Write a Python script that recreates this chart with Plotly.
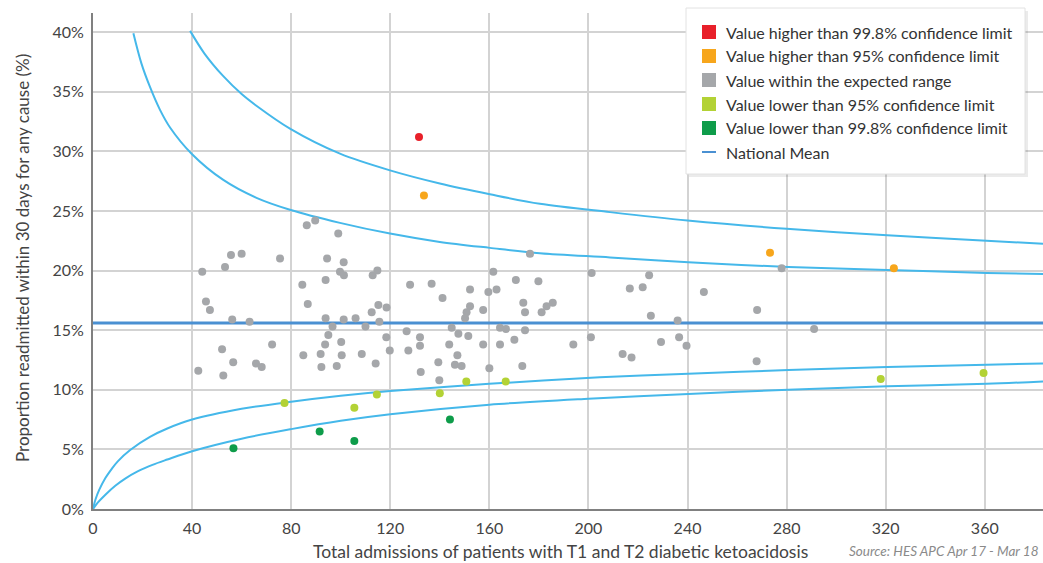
import plotly.graph_objects as go

# ---------------- data ----------------
# Gray: within expected range
gray_x = [86.3, 89.7, 99.0, 55.7, 60.0, 75.5, 44.1, 53.3, 94.5, 101.2, 99.7, 101.3, 112.9, 114.8,
          93.9, 84.5, 45.6, 47.2, 86.7, 56.2, 63.2, 93.9, 96.7, 101.2, 106.0, 110.0, 112.5, 115.2,
          118.5, 115.6, 95.0, 93.7, 100.2, 118.4, 52.1, 72.3, 84.9, 91.9, 100.4, 108.5, 119.8,
          56.6, 65.8, 68.1, 42.5, 52.6, 92.2, 98.4, 114.1,
          176.4, 161.6, 201.3, 128.0, 136.7, 152.2, 159.6, 162.9, 170.7, 179.8, 216.7, 141.1,
          152.2, 150.8, 150.2, 157.5, 173.7, 174.4, 181.1, 183.1, 185.6, 144.8, 147.5, 151.5,
          126.6, 132.0, 132.0, 164.3, 166.7, 174.4, 201.0, 127.3, 143.8, 157.5, 164.3, 170.1,
          193.9, 147.1, 139.4, 146.1, 148.8, 160.0, 173.3, 132.3, 139.8, 213.8, 217.4,
          224.5, 221.9, 246.6, 278.0, 268.1, 225.2, 236.0, 291.1, 236.6, 239.6, 229.3, 267.9]
gray_y = [23.8, 24.2, 23.1, 21.3, 21.4, 21.0, 19.9, 20.3, 21.0, 20.7, 19.9, 19.6, 19.6, 20.0,
          19.2, 18.8, 17.4, 16.7, 17.2, 15.9, 15.7, 16.0, 15.3, 15.9, 16.0, 15.3, 16.5, 17.1,
          16.9, 15.7, 14.6, 13.8, 14.0, 14.4, 13.4, 13.8, 12.9, 13.0, 12.9, 13.0, 13.3,
          12.3, 12.2, 11.9, 11.6, 11.2, 11.9, 12.0, 12.2,
          21.4, 19.9, 19.8, 18.8, 18.9, 18.4, 18.2, 18.4, 19.2, 19.1, 18.5, 17.7,
          17.0, 16.5, 16.0, 16.7, 17.3, 16.5, 16.5, 17.0, 17.3, 15.2, 14.7, 14.5,
          14.9, 14.4, 13.7, 15.2, 15.1, 15.0, 14.4, 13.3, 13.8, 13.8, 13.8, 14.2,
          13.8, 12.9, 12.3, 12.1, 12.0, 11.8, 12.0, 11.5, 10.8, 13.0, 12.7,
          19.6, 18.6, 18.2, 20.2, 16.7, 16.2, 15.8, 15.1, 14.4, 13.7, 14.0, 12.4]

red_x = [131.6]
red_y = [31.2]
orange_x = [133.6, 273.3, 323.3]
orange_y = [26.3, 21.5, 20.2]
lime_x = [77.3, 105.5, 114.6, 140.0, 150.7, 166.6, 318.0, 359.5]
lime_y = [8.9, 8.5, 9.6, 9.7, 10.7, 10.7, 10.9, 11.4]
green_x = [56.7, 91.5, 105.5, 144.1]
green_y = [5.1, 6.5, 5.7, 7.5]

national_mean = 15.6

# Control limit curves
up998_x = [39.2, 45.0, 52.6, 60.0, 66.1, 79.5, 99.7, 119.9, 140.0, 160.2, 180.4, 208.7, 240.0, 280.0, 320.6, 360.7, 383.5]
up998_y = [40.1, 38.2, 36.3, 34.8, 33.8, 31.9, 29.8, 28.4, 27.3, 26.4, 25.6, 24.9, 24.2, 23.5, 22.95, 22.5, 22.25]
up95_x = [16.3, 19.5, 23.0, 27.0, 31.1, 39.8, 52.6, 66.0, 79.5, 99.7, 119.9, 140.0, 160.2, 180.4, 208.7, 240.3, 280.7, 320.6, 360.7, 383.5]
up95_y = [39.9, 37.4, 35.4, 33.5, 32.0, 29.8, 27.6, 26.1, 25.1, 24.0, 23.1, 22.4, 21.9, 21.45, 21.1, 20.7, 20.3, 20.05, 19.8, 19.7]
lo95_x = [0.0, 1.0, 2.5, 5.0, 7.5, 10.0, 15.0, 23.0, 30.0, 40.0, 60.0, 80.0, 100.0, 120.0, 160.0, 204.6, 240.3, 280.7, 320.6, 360.7, 383.5]
lo95_y = [0.0, 0.8, 1.6, 2.6, 3.35, 4.0, 4.95, 6.05, 6.75, 7.5, 8.4, 9.0, 9.5, 9.9, 10.5, 11.05, 11.35, 11.65, 11.9, 12.1, 12.2]
lo998_x = [0.0, 2.0, 5.0, 9.0, 13.0, 18.0, 24.0, 30.0, 40.0, 60.0, 80.0, 100.0, 120.0, 160.0, 200.0, 240.3, 280.7, 320.6, 360.7, 383.5]
lo998_y = [0.0, 0.55, 1.2, 1.95, 2.55, 3.15, 3.7, 4.15, 4.85, 5.9, 6.7, 7.4, 7.95, 8.75, 9.25, 9.65, 10.0, 10.3, 10.5, 10.7]

x_ticks = [0, 40, 80, 120, 160, 200, 240, 280, 320, 360]
y_ticks = [0, 5, 10, 15, 20, 25, 30, 35, 40]
y_tick_labels = ["0%", "5%", "10%", "15%", "20%", "25%", "30%", "35%", "40%"]

legend_labels = ["Value higher than 99.8% confidence limit",
                 "Value higher than 95% confidence limit",
                 "Value within the expected range",
                 "Value lower than 95% confidence limit",
                 "Value lower than 99.8% confidence limit",
                 "National Mean"]

# ---------------- styling ----------------
FONT = "Lato"
C_RED = "#e8202a"
C_ORANGE = "#f7a61c"
C_GRAY = "#a5a7aa"
C_LIME = "#b3d235"
C_GREEN = "#0e9c4a"
C_CURVE = "#45b8ea"
C_MEAN = "#4a90d2"
C_TEXT = "#444444"
legend_colors = [C_RED, C_ORANGE, C_GRAY, C_LIME, C_GREEN]

W, H = 1043, 563
ML, MR, MT, MB = 93, 0, 13, 54
X_MAX = 383.5
Y_MAX = 41.6

fig = go.Figure()

for cx, cy in [(up998_x, up998_y), (up95_x, up95_y), (lo95_x, lo95_y), (lo998_x, lo998_y)]:
    fig.add_trace(go.Scatter(x=cx, y=cy, mode="lines",
                             line=dict(color=C_CURVE, width=2, shape="spline", smoothing=0.9),
                             hoverinfo="skip", showlegend=False))

fig.add_trace(go.Scatter(x=[0, X_MAX], y=[national_mean, national_mean], mode="lines",
                         line=dict(color=C_MEAN, width=3), showlegend=False, hoverinfo="skip"))

for xs, ys, col in [(gray_x, gray_y, C_GRAY), (lime_x, lime_y, C_LIME), (green_x, green_y, C_GREEN),
                    (orange_x, orange_y, C_ORANGE), (red_x, red_y, C_RED)]:
    fig.add_trace(go.Scatter(x=xs, y=ys, mode="markers",
                             marker=dict(color=col, size=8, line=dict(width=0)),
                             showlegend=False))

pw = W - ML - MR
ph = H - MT - MB


def px(xp):
    return (xp - ML) / pw


def py(yp):
    return (H - MB - yp) / ph


shapes = []
annotations = []
# legend box (shadow + box)
shapes.append(dict(type="rect", xref="paper", yref="paper", x0=px(689), x1=px(1028), y0=py(177), y1=py(11),
                   fillcolor="rgba(0,0,0,0.08)", line=dict(width=0), layer="above"))
shapes.append(dict(type="rect", xref="paper", yref="paper", x0=px(686), x1=px(1025), y0=py(174), y1=py(8),
                   fillcolor="white", line=dict(color="#e2e2e2", width=1), layer="above"))
ys_leg = [32, 56, 80, 104, 128, 152]
for i, lab in enumerate(legend_labels):
    yc = ys_leg[i]
    if i < 5:
        shapes.append(dict(type="rect", xref="paper", yref="paper", x0=px(702), x1=px(716),
                           y0=py(yc + 7), y1=py(yc - 7), fillcolor=legend_colors[i],
                           line=dict(width=0), layer="above"))
    else:
        shapes.append(dict(type="line", xref="paper", yref="paper", x0=px(702), x1=px(716),
                           y0=py(yc), y1=py(yc), line=dict(color=C_MEAN, width=2), layer="above"))
    annotations.append(dict(text=lab, xref="paper", yref="paper", x=px(724), y=py(yc),
                            xanchor="left", yanchor="middle", showarrow=False,
                            font=dict(family=FONT, size=16, color="#333333")))

annotations.append(dict(text="Total admissions of patients with T1 and T2 diabetic ketoacidosis",
                        xref="paper", yref="paper", x=px(560), y=py(551), xanchor="center", yanchor="middle",
                        showarrow=False, font=dict(family=FONT, size=17.5, color=C_TEXT)))
annotations.append(dict(text="<i>Source: HES APC Apr 17 - Mar 18</i>",
                        xref="paper", yref="paper", x=px(1041), y=py(551), xanchor="right", yanchor="middle",
                        showarrow=False, font=dict(family=FONT, size=13.5, color="#8a8a8a")))
annotations.append(dict(text="Proportion readmitted within 30 days for any cause (%)",
                        xref="paper", yref="paper", x=px(22), y=py(258), xanchor="center", yanchor="middle",
                        textangle=-90, showarrow=False, font=dict(family=FONT, size=17, color=C_TEXT)))

fig.update_layout(
    width=W, height=H,
    margin=dict(l=ML, r=MR, t=MT, b=MB),
    paper_bgcolor="white", plot_bgcolor="white",
    font=dict(family=FONT, size=16, color=C_TEXT),
    shapes=shapes, annotations=annotations,
    showlegend=False,
    xaxis=dict(range=[0, X_MAX], tickvals=x_ticks, showgrid=True, gridcolor="#d3d3d3", gridwidth=2,
               zeroline=False, showline=True, linecolor="#808080", linewidth=2,
               tickfont=dict(family=FONT, size=16, color=C_TEXT), ticks="", ticklabelstandoff=4,
               fixedrange=True),
    yaxis=dict(range=[0, Y_MAX], tickvals=y_ticks, ticktext=y_tick_labels, showgrid=True,
               gridcolor="#d3d3d3", gridwidth=2, zeroline=False, showline=True, linecolor="#808080",
               linewidth=2, tickfont=dict(family=FONT, size=16, color=C_TEXT), ticks="",
               ticklabelstandoff=4, fixedrange=True),
)

fig.write_html("out.html")
